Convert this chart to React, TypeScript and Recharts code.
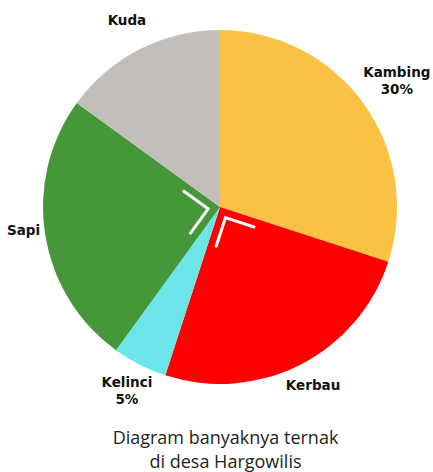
import React from 'react';
import { PieChart, Pie, Cell } from 'recharts';

const CATEGORIES = ['Kambing', 'Kerbau', 'Kelinci', 'Sapi', 'Kuda'];
const VALUES = [30, 25, 5, 25, 15];
const PCT_LABELS = ['30%', '', '5%', '', ''];
const COLORS = ['#F9C244', '#FF0000', '#6CE5E8', '#46963A', '#C3BEB9'];
const TITLE_LINES = ['Diagram banyaknya ternak', 'di desa Hargowilis'];

// small per-label nudges so the names sit where the original put them
const LABEL_NUDGE = [[11, -7], [0, -5], [0, 0], [6, -9], [0, -4]];

const data = CATEGORIES.map((name, i) => ({ name, value: VALUES[i] }));

const RAD = Math.PI / 180;

const renderLabel = (props: any) => {
  const { cx, cy, midAngle, outerRadius, percent, index } = props;
  const r = outerRadius + 28;
  const x = cx + r * Math.cos(-midAngle * RAD) + LABEL_NUDGE[index][0];
  const y = cy + r * Math.sin(-midAngle * RAD) + LABEL_NUDGE[index][1];
  const pct = PCT_LABELS[index];

  // right-angle marker for the quarter slices
  let marker = null;
  if (Math.abs(percent - 0.25) < 0.001) {
    const half = percent * 180;
    const vx = cx + 12 * Math.cos(-midAngle * RAD);
    const vy = cy + 12 * Math.sin(-midAngle * RAD);
    const a1 = midAngle - half;
    const a2 = midAngle + half;
    const len = 30;
    const p1 = [vx + len * Math.cos(-a1 * RAD), vy + len * Math.sin(-a1 * RAD)];
    const p2 = [vx + len * Math.cos(-a2 * RAD), vy + len * Math.sin(-a2 * RAD)];
    marker = (
      <polyline
        points={`${p1[0]},${p1[1]} ${vx},${vy} ${p2[0]},${p2[1]}`}
        fill="none"
        stroke="#ffffff"
        strokeWidth={3}
        strokeLinecap="round"
      />
    );
  }

  return (
    <g>
      {marker}
      <text
        x={x}
        y={pct ? y - 8 : y}
        textAnchor="middle"
        dominantBaseline="central"
        fill="#111"
        fontFamily="DejaVu Sans"
        fontWeight="bold"
        fontSize={13.5}
      >
        <tspan x={x}>{CATEGORIES[index]}</tspan>
        {pct && <tspan x={x} dy={17}>{pct}</tspan>}
      </text>
    </g>
  );
};

export default function App() {
  return (
    <div style={{ position: 'absolute', left: 0, top: 0, width: 433, height: 472, background: '#fff' }}>
      <PieChart width={433} height={420} margin={{ top: 0, right: 0, bottom: 0, left: 0 }}>
        <Pie
          data={data}
          dataKey="value"
          nameKey="name"
          cx={220}
          cy={207}
          outerRadius={177}
          startAngle={90}
          endAngle={-270}
          stroke="none"
          label={renderLabel}
          labelLine={false}
          isAnimationActive={false}
        >
          {data.map((_, i) => (
            <Cell key={i} fill={COLORS[i]} />
          ))}
        </Pie>
      </PieChart>
      <div
        style={{
          position: 'absolute',
          left: 0,
          top: 425,
          width: 451,
          textAlign: 'center',
          fontFamily: "'Open Sans', sans-serif",
          fontWeight: 500,
          fontSize: 18,
          lineHeight: '24px',
          color: '#1e1e1e',
        }}
      >
        {TITLE_LINES.map((t) => (
          <div key={t}>{t}</div>
        ))}
      </div>
    </div>
  );
}
